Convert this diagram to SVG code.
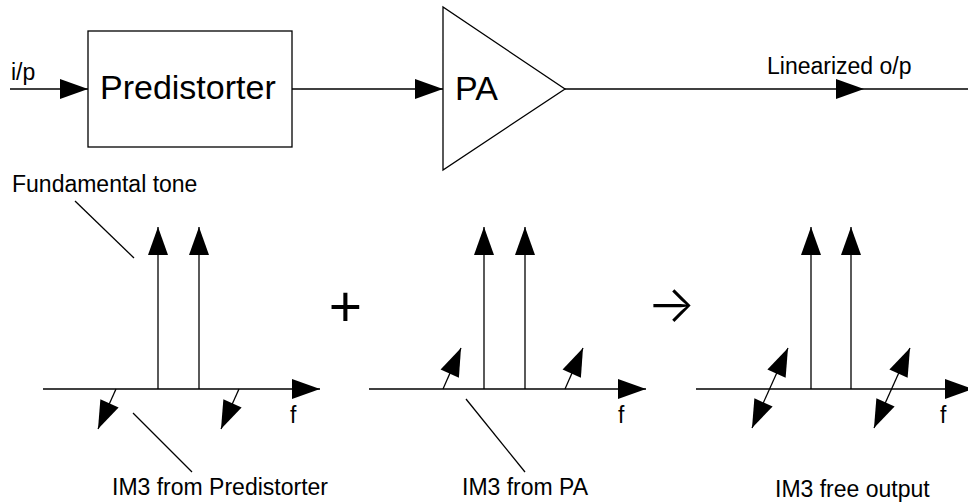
<svg xmlns="http://www.w3.org/2000/svg" width="968" height="504" viewBox="0 0 968 504">
<style>
.ln{stroke:#000;stroke-width:1.3;fill:none}
.arr{marker-end:url(#ah)}
.both{marker-start:url(#ahs);marker-end:url(#ah)}
.big{font-family:"Liberation Sans",Arial,sans-serif;font-size:34px;fill:#000}
.lbl{font-family:"Liberation Sans",Arial,sans-serif;font-size:23px;fill:#000}
.box{fill:#fff;stroke:#000;stroke-width:1.3}
</style>
<defs>
<marker id="ah" markerUnits="userSpaceOnUse" markerWidth="29" markerHeight="20" refX="28" refY="10" orient="auto" overflow="visible">
<path d="M0,0 L28,10 L0,20 Z" fill="#000"/>
</marker>
<marker id="ahs" markerUnits="userSpaceOnUse" markerWidth="29" markerHeight="20" refX="28" refY="10" orient="auto-start-reverse" overflow="visible">
<path d="M0,0 L28,10 L0,20 Z" fill="#000"/>
</marker>
</defs>
<rect width="968" height="504" fill="#fff"/>

<g id="connectors">
<line class="ln arr" x1="10" y1="89" x2="88" y2="89"/>
<line class="ln arr" x1="292" y1="89" x2="443" y2="89"/>
<line class="ln arr" x1="565" y1="89" x2="864" y2="89"/>
<line class="ln" x1="864" y1="89" x2="968" y2="89"/>
</g>

<g id="input-label"><text class="lbl" x="11" y="80">i/p</text></g>

<g id="predistorter">
<rect class="box" x="88" y="31" width="204" height="116"/>
<text class="big" x="100" y="99">Predistorter</text>
</g>

<g id="pa">
<polygon class="box" points="443,7 443,170 565,89"/>
<text class="big" x="455" y="100">PA</text>
</g>

<g id="output-label"><text class="lbl" x="767" y="74">Linearized o/p</text></g>

<g id="spectrum-predistorter">
<text class="lbl" x="12" y="192">Fundamental tone</text>
<line class="ln" x1="75" y1="201" x2="134" y2="258"/>
<line class="ln arr" x1="43" y1="389" x2="320" y2="389"/>
<line class="ln arr" x1="158" y1="389" x2="158" y2="227"/>
<line class="ln arr" x1="199" y1="389" x2="199" y2="227"/>
<line class="ln arr" x1="116" y1="389" x2="98" y2="429"/>
<line class="ln arr" x1="239" y1="389" x2="221" y2="429"/>
<text class="lbl" x="290" y="423">f</text>
<line class="ln" x1="133" y1="413" x2="192" y2="472"/>
<text class="lbl" x="112" y="495">IM3 from Predistorter</text>
</g>

<g id="plus"><text x="345.5" y="326" text-anchor="middle" style="font-family:'Liberation Sans',Arial,sans-serif;font-size:57px">+</text></g>

<g id="spectrum-pa">
<line class="ln arr" x1="369" y1="389" x2="646" y2="389"/>
<line class="ln arr" x1="484" y1="389" x2="484" y2="227"/>
<line class="ln arr" x1="525" y1="389" x2="525" y2="227"/>
<line class="ln arr" x1="443" y1="389" x2="461" y2="348"/>
<line class="ln arr" x1="565" y1="389" x2="583" y2="348"/>
<text class="lbl" x="618" y="423">f</text>
<line class="ln" x1="466" y1="399" x2="525" y2="472"/>
<text class="lbl" x="462" y="495">IM3 from PA</text>
</g>

<g id="arrow-symbol"><text x="647" y="322" style="font-family:Inter,Lato,sans-serif;font-size:51px;font-weight:300">→</text></g>

<g id="spectrum-output">
<line class="ln arr" x1="696" y1="389" x2="973" y2="389"/>
<line class="ln arr" x1="811" y1="389" x2="811" y2="227"/>
<line class="ln arr" x1="851" y1="389" x2="851" y2="227"/>
<line class="ln both" x1="752" y1="428" x2="788" y2="348"/>
<line class="ln both" x1="874" y1="428" x2="910" y2="348"/>
<text class="lbl" x="940" y="423">f</text>
<text class="lbl" x="775" y="497">IM3 free output</text>
</g>
</svg>
